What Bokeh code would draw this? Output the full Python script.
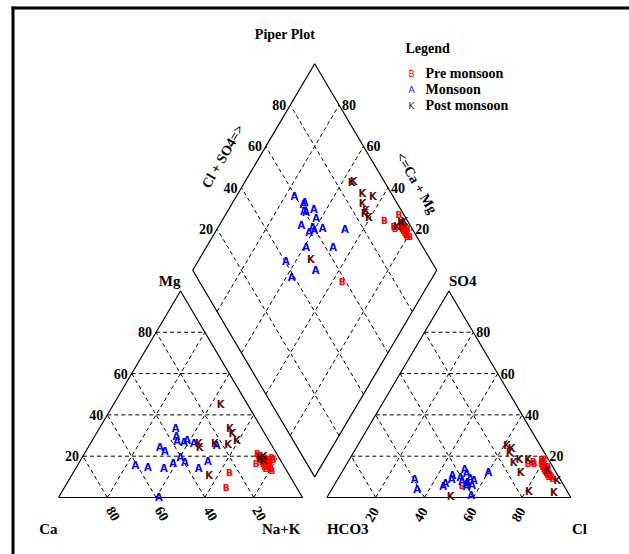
import numpy as np
from bokeh.plotting import figure
from bokeh.models import Range1d
from bokeh.core.properties import value
from bokeh.embed import file_html
from bokeh.resources import INLINE

# ---------------- data (percent of meq/l) ----------------
series_names = ["Pre monsoon", "Monsoon", "Post monsoon"]
series_letters = ["B", "A", "K"]
series_colors = ["#ff0000", "#0000ff", "#5c0a0a"]

pre_mg  = [11.8, 4.5, 18, 20, 16, 14, 19, 17, 15, 21, 13, 18, 16, 19, 17, 18, 15, 17, 19, 16, 18, 14]
pre_nak = [64.2, 66.5, 74, 72, 76, 80, 75, 78, 77, 71, 81, 77, 73, 78, 75, 76, 79, 77, 74, 78, 79, 78]
pre_so4 = [5.8, 16.3, 18, 17, 15, 12, 16, 10, 13, 18, 9, 14, 16, 11, 14, 15, 12, 13, 17, 11, 10, 15]
pre_cl  = [52.5, 74.3, 79, 76, 82, 84, 80, 87, 83, 80, 88, 82, 77, 85, 83, 81, 85, 84, 80, 86, 86, 83]

mon_mg  = [15.5, 24.1, 14.4, 33.3, 27.3, 26.8, 29.5, 16.6, 27.6, 19.5, 17.1, 17.6, 0.0, 25.2, 13.9, 14.2, 26.3, 22.4]
mon_nak = [23.8, 29.5, 29.4, 31.3, 35.0, 38.0, 33.6, 38.7, 38.9, 40.2, 43.2, 52.4, 41.1, 52.2, 50.5, 36.1, 42.3, 32.4]
mon_so4 = [9.5, 7.4, 5.8, 5.3, 8.2, 13.4, 8.6, 10.7, 7.9, 1.0, 9.1, 12.3, 6.6, 11.5, 5.3, 8.6, 3.7, 6.5]
mon_cl  = [50.0, 53.8, 56.6, 54.6, 56.1, 49.7, 46.8, 46.1, 51.5, 58.6, 54.1, 60.0, 45.3, 51.5, 45.0, 31.7, 35.1, 54.0]

post_mg  = [45.0, 26.0, 24.0, 26.1, 33.4, 30.8, 10.6, 25.8, 27.6, 19, 18, 20]
post_nak = [43.9, 44.5, 45.8, 51.0, 53.5, 55.9, 56.4, 56.6, 59.3, 73, 75, 74]
post_so4 = [25.2, 23.6, 0.5, 18.3, 21.9, 18.4, 12.3, 3.1, 17.1, 2.6, 8.4, 13.1]
post_cl  = [61.2, 63.9, 50.5, 69.7, 63.9, 73.3, 73.2, 81.2, 68.0, 91.7, 90.2, 83.8]

ticks = [20, 40, 60, 80]
tick_labels = ["20", "40", "60", "80"]

# ---------------- geometry ----------------
S = np.sqrt(3) / 2
GAP = 10.0


def cat_xy(mg, nak):
    mg = np.asarray(mg, float); nak = np.asarray(nak, float)
    return nak + mg / 2, mg * S


def an_xy(so4, cl):
    so4 = np.asarray(so4, float); cl = np.asarray(cl, float)
    return 100 + GAP + cl + so4 / 2, so4 * S


def dia_ca(c, a):
    c = np.asarray(c, float) / 100; a = np.asarray(a, float) / 100
    bx, by = 100 + GAP / 2, GAP * S
    return bx + 50 * (a - c), by + 100 * S * (a + c)


def dia_xy(mg, nak, so4, cl):
    return dia_ca(100 - np.asarray(nak, float), np.asarray(so4, float) + np.asarray(cl, float))


def sx(px):
    return (px - 58.0) / 2.44


def sy(py):
    return (497.0 - py) / 2.385


p = figure(width=629, height=554, x_range=Range1d(sx(0), sx(629)), y_range=Range1d(sy(554), sy(0)),
           output_backend="svg", toolbar_location=None, min_border=0,
           x_axis_location=None, y_axis_location=None)
p.grid.visible = False
p.outline_line_color = None
p.background_fill_color = "white"

# frame (left and top)
p.line([sx(12.5), sx(12.5)], [sy(560), sy(6)], line_color="black", line_width=3)
p.line([sx(11), sx(640)], [sy(7.5), sy(7.5)], line_color="black", line_width=3)

# ---------------- grid lines ----------------
gx, gy = [], []
for v in ticks:
    segs = [
        (cat_xy([v, v], [0, 100 - v])),
        (cat_xy([0, 100 - v], [100 - v, 0])),
        (cat_xy([0, 100 - v], [v, v])),
        (an_xy([v, v], [0, 100 - v])),
        (an_xy([0, 100 - v], [v, v])),
        (an_xy([0, 100 - v], [100 - v, 0])),
        (dia_ca([v, v], [0, 100])),
        (dia_ca([0, 100], [v, v])),
    ]
    for xx, yy in segs:
        gx.append(list(xx)); gy.append(list(yy))
p.multi_line(gx, gy, line_color="black", line_width=1, line_dash="4 3")

# outlines
tx, ty = cat_xy([0, 0, 100, 0], [0, 100, 0, 0])
p.line(tx, ty, line_color="black", line_width=1.2)
ax, ay = an_xy([0, 0, 100, 0], [0, 100, 0, 0])
p.line(ax, ay, line_color="black", line_width=1.2)
dx, dy = dia_ca([0, 100, 100, 0, 0], [0, 0, 100, 100, 0])
p.line(dx, dy, line_color="black", line_width=1.2)

FONT = value("Liberation Serif")


def label(x, y, txt, size=14, align="center", baseline="middle", angle=0.0, xo=0, yo=0):
    p.text(x=list(np.atleast_1d(x)), y=list(np.atleast_1d(y)), text=list(np.atleast_1d(txt)),
           text_font=FONT, text_font_size=f"{size}px", text_font_style="bold",
           text_align=align, text_baseline=baseline, angle=angle,
           x_offset=xo, y_offset=yo, text_color="black")


# tick labels
lx, ly = cat_xy(ticks, [0] * 4)
label(lx, ly, tick_labels, align="right", xo=-4)
bx_, by_ = cat_xy([0] * 4, [100 - v for v in ticks])
label(bx_ + 6 / 2.44, by_ - 16 / 2.385, tick_labels, angle=-np.pi / 3)
rx, ry = an_xy(ticks, [100 - v for v in ticks])
label(rx, ry, tick_labels, align="left", xo=3)
cx_, cy_ = an_xy([0] * 4, ticks)
label(cx_ - 4 / 2.44, cy_ - 17 / 2.385, tick_labels, angle=np.pi / 3)
ulx, uly = dia_ca([100] * 4, ticks)
label(ulx, uly, tick_labels, align="right", xo=-4)
urx, ury = dia_ca(ticks, [100] * 4)
label(urx, ury, tick_labels, align="left", xo=3)

# corner labels
mx, my = cat_xy([100], [0])
label(mx, my, "Mg", size=15, align="right", baseline="bottom", yo=-2)
label([0.0], [0.0], "Ca", size=15, align="right", xo=-1, yo=31)
label([100.0], [0.0], "Na+K", size=15, align="right", xo=-2, yo=31)
label([100 + GAP], [0.0], "HCO3", size=15, align="left", yo=31)
label([200 + GAP], [0.0], "Cl", size=15, align="left", xo=1, yo=31)
sox, soy = an_xy([100], [0])
label(sox, soy, "SO4", size=15, align="left", baseline="bottom", yo=-2)

# diamond axis titles
m1x, m1y = dia_ca([100], [50])
label(m1x - 30.7 / 2.44, m1y + 10.5 / 2.385, "Cl + SO4=>", angle=np.pi / 3)
m2x, m2y = dia_ca([50], [100])
label(m2x + 40.8 / 2.44, m2y - 16 / 2.385, "<=Ca + Mg", angle=-np.pi / 3)

# title
label([sx(284.5)], [sy(34)], "Piper Plot", size=14)

# ---------------- samples ----------------
series = [
    (pre_mg, pre_nak, pre_so4, pre_cl, 9, "bold"),
    (mon_mg, mon_nak, mon_so4, mon_cl, 10, "bold"),
    (post_mg, post_nak, post_so4, post_cl, 10, "bold"),
]
for (mg, nak, so4, cl, fs, fst), letter, color in zip(series, series_letters, series_colors):
    x1, y1 = cat_xy(mg, nak)
    x2, y2 = an_xy(so4, cl)
    x3, y3 = dia_xy(mg, nak, so4, cl)
    xs = list(np.concatenate([x1, x2, x3]))
    ys = list(np.concatenate([y1, y2, y3]))
    p.text(x=xs, y=ys, text=[letter] * len(xs), text_color=color,
           text_font=value("DejaVu Sans"), text_font_size=f"{fs}px", text_font_style=fst,
           text_align="center", text_baseline="middle")

# ---------------- legend ----------------
label([sx(405)], [sy(48)], "Legend", size=14, align="left")
leg_y = [73, 89, 105]
for name, letter, color, yy in zip(series_names, series_letters, series_colors, leg_y):
    p.text(x=[sx(411)], y=[sy(yy)], text=[letter], text_color=color,
           text_font=value("DejaVu Sans"), text_font_size="9px",
           text_align="center", text_baseline="middle")
    label([sx(425)], [sy(yy)], name, size=14, align="left")

open("out.html", "w").write(file_html(p, INLINE))
